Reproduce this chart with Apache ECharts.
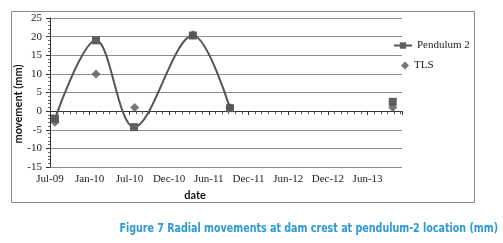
<!DOCTYPE html>
<html>
<head>
<meta charset="utf-8">
<script src="https://cdn.jsdelivr.net/npm/echarts@6/dist/echarts.min.js"></script>
<style>
html,body{margin:0;padding:0;background:#fff;}
#c{width:503px;height:243px;}
</style>
</head>
<body>
<div id="c"></div>
<script>
// x values: months since Jul-09
var xTickLabels = ['Jul-09','Jan-10','Jul-10','Dec-10','Jun-11','Dec-11','Jun-12','Dec-12','Jun-13'];
var pendulumX = [0.76, 6.95, 12.7, 21.6, 27.2, 51.8];
var pendulumY = [-2, 19, -4.3, 20.3, 0.8, 2.5];
var tlsX = [0.76, 6.95, 12.8, 21.6, 27.2, 51.8];
var tlsY = [-3, 10, 1, 20.5, 1, 1];
var yTicks = [-15, -10, -5, 0, 5, 10, 15, 20, 25];

// the last pendulum reading is not joined to the curve
var pendData = [];
for (var i = 0; i < pendulumX.length; i++) {
  if (i === pendulumX.length - 1) pendData.push([(pendulumX[i-1] + pendulumX[i]) / 2, '-']);
  pendData.push([pendulumX[i], pendulumY[i]]);
}
var tlsData = tlsX.map(function (x, i) { return [x, tlsY[i]]; });

var serif = 'Liberation Serif';
var chart = echarts.init(document.getElementById('c'), null, {renderer: 'canvas'});
chart.setOption({
  animation: false,
  backgroundColor: '#fff',
  grid: {left: 50, top: 18, width: 352, height: 149, containLabel: false},
  xAxis: [{
    type: 'value', min: 0, max: 53.2, interval: 6, position: 'bottom',
    axisLine: {show: true, onZero: true, lineStyle: {color: '#333', width: 1}},
    axisTick: {show: true, length: 4, lineStyle: {color: '#333'}},
    minorTick: {show: true, splitNumber: 6, length: 3, lineStyle: {color: '#555'}},
    axisLabel: {show: false},
    splitLine: {show: false}
  }, {
    type: 'value', min: 0, max: 53.2, interval: 6, position: 'bottom',
    axisLine: {show: false, onZero: false},
    axisTick: {show: false},
    splitLine: {show: false},
    axisLabel: {
      show: true, margin: 7, fontFamily: serif, fontSize: 11, color: '#222',
      showMaxLabel: false,
      formatter: function (v) { return xTickLabels[Math.round(v / 6)] || ''; }
    }
  }],
  yAxis: {
    type: 'value', min: -15, max: 25, interval: 5,
    axisLine: {show: true, lineStyle: {color: '#333', width: 1}},
    axisTick: {show: true, length: 4, lineStyle: {color: '#333'}},
    minorTick: {show: true, splitNumber: 5, length: 2, lineStyle: {color: '#666'}},
    axisLabel: {margin: 8, fontFamily: serif, fontSize: 11, color: '#222',
      formatter: function (v) { return yTicks.indexOf(v) >= 0 ? String(v) : ''; }},
    splitLine: {show: true, lineStyle: {color: '#8c8c8c', width: 1}}
  },
  legend: [{
    orient: 'vertical', left: 393, top: 40, padding: 0,
    itemWidth: 18, itemHeight: 8, itemGap: 2,
    textStyle: {fontFamily: serif, fontSize: 11, color: '#222'},
    data: ['Pendulum 2']
  }, {
    orient: 'vertical', left: 401, top: 60, padding: 0,
    itemWidth: 8, itemHeight: 8, itemGap: 2,
    textStyle: {fontFamily: serif, fontSize: 11, color: '#222'},
    data: [{name: 'TLS', icon: 'diamond'}]
  }],
  series: [{
    name: 'Pendulum 2', type: 'line', smooth: 0.35, connectNulls: false,
    data: pendData, symbol: 'rect', symbolSize: 8,
    lineStyle: {color: '#555', width: 2},
    itemStyle: {color: '#5f5f5f'}, z: 2
  }, {
    name: 'TLS', type: 'scatter', data: tlsData,
    symbol: 'diamond', symbolSize: 9,
    itemStyle: {color: '#555'}, z: 3
  }],
  graphic: [
    {type: 'rect', shape: {x: 11.5, y: 11.5, width: 463, height: 191},
     style: {fill: 'none', stroke: '#8a8a8a', lineWidth: 1}, silent: true, z: -1},
    {type: 'text', x: 18, y: 104, rotation: Math.PI / 2,
     style: {text: 'movement (mm)', font: 'bold 11px Lato', fill: '#111', align: 'center', verticalAlign: 'middle'}},
    {type: 'text', x: 195, y: 195,
     style: {text: 'date', font: 'bold 11px Lato', fill: '#111', align: 'center', verticalAlign: 'middle'}},
    {type: 'text', x: 498, y: 229, scaleX: 0.815,
     style: {text: 'Figure 7 Radial movements at dam crest at pendulum-2 location (mm)', font: 'bold 13px "DejaVu Sans Condensed"', fill: '#2b9ad6', align: 'right', verticalAlign: 'middle'}}
  ]
});
</script>
</body>
</html>
